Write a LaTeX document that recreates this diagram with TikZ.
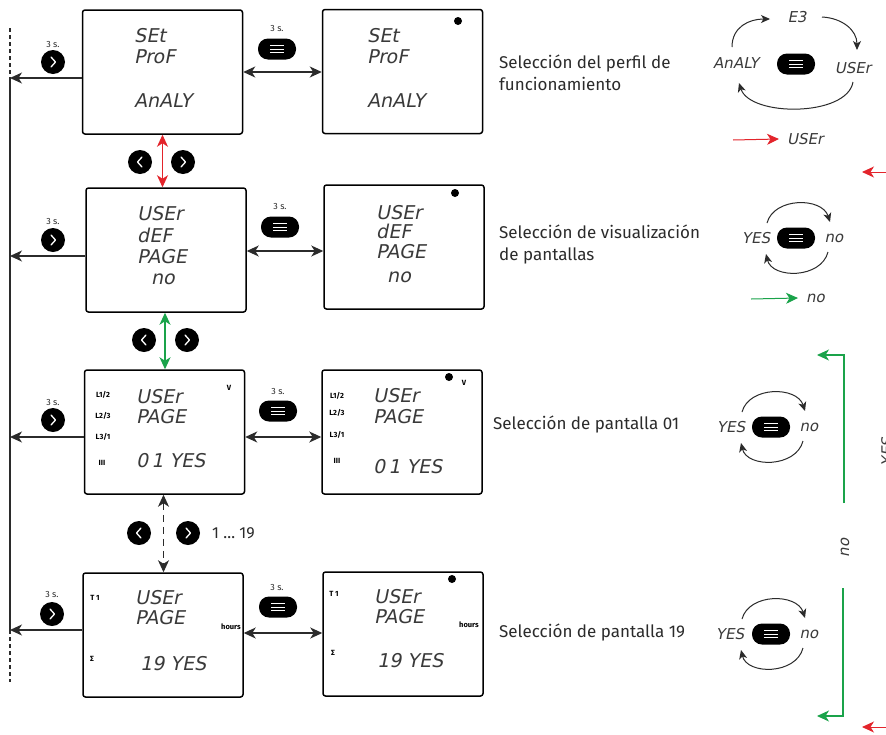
\documentclass[tikz,border=0pt]{standalone}
\usepackage{fontspec}
\setmainfont{Fira Sans}
\newfontfamily\lcdfont{DejaVu Sans}[FakeSlant=0.2]
\usetikzlibrary{arrows.meta}
\definecolor{myred}{HTML}{E3242B}
\definecolor{mygreen}{HTML}{1AA34A}
\definecolor{ink}{HTML}{2B2B2B}
\definecolor{lcdink}{HTML}{3A3A3A}
\tikzset{
 bx/.style={draw=black, line width=1.5pt, rounded corners=2.5pt, minimum width=160pt, minimum height=124pt, inner sep=0pt},
 lcd/.style={font=\lcdfont\fontsize{19}{19}\selectfont, anchor=base west, inner sep=0pt, text=lcdink},
 lcdc/.style={font=\lcdfont\fontsize{15}{15}\selectfont, inner sep=0pt, text=lcdink},
 lbl/.style={font=\fontsize{17}{22}\selectfont, anchor=west, align=left, inner sep=0pt, text=ink},
 ind/.style={font=\bfseries\fontsize{7.5}{7.5}\selectfont, inner sep=0pt},
 secs/.style={font=\fontsize{9}{9}\selectfont, inner sep=0pt, text=ink},
 >={Stealth[length=12pt,width=11pt,inset=3.5pt]},
 arr/.style={->, line width=1.1pt, draw=ink},
 darr/.style={<->, line width=1.1pt, draw=ink},
 cyc/.style={-{Stealth[length=9pt,width=8pt,inset=2.5pt]}, line width=1pt, draw=ink},
 rbtn/.style={circle, fill=black, minimum size=24pt, inner sep=0pt, path picture={\draw[white, line width=1.3pt, line cap=round, line join=round] ([shift={(-2pt,5pt)}]path picture bounding box.center) -- ++(4.5pt,-5pt) -- ++(-4.5pt,-5pt);}},
 lbtn/.style={circle, fill=black, minimum size=24pt, inner sep=0pt, path picture={\draw[white, line width=1.3pt, line cap=round, line join=round] ([shift={(2pt,5pt)}]path picture bounding box.center) -- ++(-4.5pt,-5pt) -- ++(4.5pt,-5pt);}},
 pill/.style={rectangle, rounded corners=10pt, fill=black, minimum width=38pt, minimum height=21pt, inner sep=0pt, path picture={\foreach \d in {-3.5,0,3.5}{\draw[white, line width=1pt] ([shift={(-7pt,\d pt)}]path picture bounding box.center) -- ++(14pt,0pt);}}},
 dotn/.style={circle, fill=black, minimum size=8pt, inner sep=0pt},
}
\begin{document}
\begin{tikzpicture}[x=1pt,y=-1pt]
\useasboundingbox (0,0) rectangle (886,734);
\fill[white] (0,0) rectangle (886,734);

% ---------- left bus ----------
\coordinate (vt) at (10,28);
\coordinate (va) at (10,78);
\coordinate (vb) at (10,630);
\coordinate (vd) at (10,682);
\draw[line width=1.1pt, ink] (va) -- (vb);
\draw[line width=1.1pt, ink, dash pattern=on 4pt off 3pt] (vt) -- (va);
\draw[line width=1.1pt, ink, dash pattern=on 4pt off 3pt] (vb) -- (vd);

% ---------- boxes ----------
\node[bx] (b1l) at (162.5,72) {};
\node[bx] (b1r) at (402.5,71.5) {};
\node[bx] (b2l) at (166,250) {};
\node[bx] (b2r) at (404,247) {};
\node[bx] (b3l) at (164.5,432) {};
\node[bx] (b3r) at (402,432) {};
\node[bx] (b4l) at (163,635) {};
\node[bx] (b4r) at (403,634) {};

% dots
\node[dotn] (d1) at (458,21) {};
\node[dotn] (d2) at (455,193) {};
\node[dotn] (d3) at (449,377) {};
\node[dotn] (d4) at (452,579) {};

% ---------- row 1 texts ----------
\node[lcd] (t11) at (134,42) {SEt};
\node[lcd] (t12) at (134,63) {ProF};
\node[lcd] (t13) at (134,107) {AnALY};
\node[lcd] (t14) at (367,42) {SEt};
\node[lcd] (t15) at (367,63) {ProF};
\node[lcd] (t16) at (367,107) {AnALY};

% ---------- row 2 texts ----------
\node[lcd] (t21) at (137,220) {USEr};
\node[lcd] (t22) at (137,242) {dEF};
\node[lcd] (t23) at (137,263) {PAGE};
\node[lcd] (t24) at (151,284) {no};
\node[lcd] (t25) at (376,219) {USEr};
\node[lcd] (t26) at (376,238) {dEF};
\node[lcd] (t27) at (376,258) {PAGE};
\node[lcd] (t28) at (387,282) {no};

% ---------- row 3 texts ----------
\node[lcd] (t31) at (136,403) {USEr};
\node[lcd] (t32) at (136,423) {PAGE};
\node[lcd] (t33) at (136,467) {0\,1 YES};
\node[ind] (i31) at (103,395) {L1/2};
\node[ind] (i32) at (103,416) {L2/3};
\node[ind] (i33) at (103,437) {L3/1};
\node[ind] (i34) at (102,463) {III};
\node[ind] (i35) at (229,388) {V};
\node[lcd] (t34) at (373,402) {USEr};
\node[lcd] (t35) at (373,423) {PAGE};
\node[lcd] (t36) at (373,473) {0\,1 YES};
\node[ind] (i36) at (337,396) {L1/2};
\node[ind] (i37) at (337,413) {L2/3};
\node[ind] (i38) at (337,435) {L3/1};
\node[ind] (i39) at (337,461) {III};
\node[ind] (i40) at (464,383) {V};

% ---------- row 4 texts ----------
\node[lcd] (t41) at (135,604) {USEr};
\node[lcd] (t42) at (135,624) {PAGE};
\node[lcd] (t43) at (140,670) {19 YES};
\node[ind] (i41) at (95,598) {T 1};
\node[ind] (i42) at (92,659) {Σ};
\node[ind] (i43) at (231,627) {hours};
\node[lcd] (t44) at (374,603) {USEr};
\node[lcd] (t45) at (374,623) {PAGE};
\node[lcd] (t46) at (377,667) {19 YES};
\node[ind] (i44) at (334,594) {T 1};
\node[ind] (i45) at (333,653) {Σ};
\node[ind] (i46) at (469,625) {hours};

% ---------- left arrows & buttons ----------
\draw[arr] ([yshift=-6pt]b1l.west) -- ([yshift=-6pt]b1l.west -| va);
\draw[arr] ([yshift=-6pt]b2l.west) -- ([yshift=-6pt]b2l.west -| va);
\draw[arr] ([yshift=-5pt]b3l.west) -- ([yshift=-5pt]b3l.west -| va);
\draw[arr] ([yshift=5pt]b4l.west) -- ([yshift=5pt]b4l.west -| va);
\node[rbtn] (k1) at (53,62) {};
\node[secs] (s1) at (53,44) {3 s.};
\node[rbtn] (k2) at (53,240) {};
\node[secs] (s2) at (53,221) {3 s.};
\node[rbtn] (k3) at (53,420) {};
\node[secs] (s3) at (53,402) {3 s.};
\node[rbtn] (k4) at (52,614) {};
\node[secs] (s4) at (52,594) {3 s.};

% ---------- horizontal double arrows & pills ----------
\draw[darr] (b1l.east) -- (b1l.east -| b1r.west);
\draw[darr] ([yshift=-1pt]b2l.east) -- ([yshift=-1pt]b2l.east -| b2r.west);
\draw[darr] ([yshift=-5pt]b3l.east) -- ([yshift=-5pt]b3l.east -| b3r.west);
\draw[darr] ([yshift=2pt]b4l.east) -- ([yshift=2pt]b4l.east -| b4r.west);
\node[pill] (p1) at (277,49) {};
\node[secs] (ps1) at (277,28) {3 s.};
\node[pill] (p2) at (280,227) {};
\node[secs] (ps2) at (280,206) {3 s.};
\node[pill] (p3) at (278,411) {};
\node[secs] (ps3) at (278,391) {3 s.};
\node[pill] (p4) at (278,607) {};
\node[secs] (ps4) at (277,587) {3 s.};

% ---------- vertical arrows ----------
\draw[<->, line width=1.2pt, myred] (b1l.south) -- (b1l.south |- b2l.north);
\node[lbtn] (v1a) at (140,162) {};
\node[rbtn] (v1b) at (183,162) {};
\draw[<->, line width=1.2pt, mygreen] ([xshift=-1pt]b2l.south) -- ([xshift=-1pt]b2l.south |- b3l.north);
\node[lbtn] (v2a) at (144,340) {};
\node[rbtn] (v2b) at (187,340) {};
\draw[<->, line width=1.1pt, ink, dash pattern=on 7pt off 5pt] ([xshift=-1pt]b3l.south) -- ([xshift=-1pt]b3l.south |- b4l.north);
\node[lbtn] (v3a) at (139,533) {};
\node[rbtn] (v3b) at (188,533) {};
\node[font=\fontsize{16}{16}\selectfont, anchor=west, inner sep=0pt, text=ink] (rng) at (212,533) {1 … 19};

% ---------- descriptions ----------
\node[lbl] (L1) at (499,73) {Selección del perfil de\\funcionamiento};
\node[lbl] (L2) at (499,244.5) {Selección de visualización\\de pantallas};
\node[lbl] (L3) at (493,424) {Selección de pantalla 01};
\node[lbl] (L4) at (499,632) {Selección de pantalla 19};

% ---------- cycle 1 ----------
\node[pill] (cp1) at (796,64) {};
\node[lcdc] (c1a) at (797,17) {E3};
\node[lcdc] (c1b) at (736,63) {AnALY};
\node[lcdc] (c1c) at (853,68) {USEr};
\draw[cyc] (732,47) .. controls (732,27) and (749,19) .. (770,19);
\draw[cyc] (822,17) .. controls (842,18) and (857,30) .. (857,50);
\draw[cyc] (853,82) .. controls (847,117) and (750,117) .. (739,83);
\coordinate (r1a) at (733,140);
\node[lcdc, anchor=west] (c1d) at (787,139) {USEr};
\draw[->, line width=1pt, myred] (r1a) -- ([xshift=-8pt]c1d.west);
\coordinate (r2a) at (892,172);
\coordinate (r2b) at (862,172);
\draw[->, line width=1pt, myred] (r2a) -- (r2b);

% ---------- cycle 2 ----------
\node[pill] (cp2) at (796,238) {};
\node[lcdc] (c2a) at (756,238) {YES};
\node[lcdc] (c2b) at (834,238) {no};
\draw[cyc] (767,223) .. controls (774,197) and (822,197) .. (830,222);
\draw[cyc] (828,252) .. controls (821,279) and (772,279) .. (766,254);
\coordinate (g0) at (751,299);
\node[lcdc, anchor=west] (c2c) at (806,298) {no};
\draw[->, line width=1pt, mygreen] (g0) -- ([xshift=-8pt]c2c.west);

% ---------- cycle 3 ----------
\node[pill] (cp3) at (771,427) {};
\node[lcdc] (c3a) at (731,427) {YES};
\node[lcdc] (c3b) at (809,427) {no};
\draw[cyc] (742,412) .. controls (749,386) and (797,386) .. (805,411);
\draw[cyc] (803,441) .. controls (796,468) and (747,468) .. (741,443);

% ---------- cycle 4 ----------
\node[pill] (cp4) at (771,634) {};
\node[lcdc] (c4a) at (730,634) {YES};
\node[lcdc] (c4b) at (809,634) {no};
\draw[cyc] (742,619) .. controls (749,593) and (797,593) .. (805,618);
\draw[cyc] (803,648) .. controls (796,675) and (747,675) .. (741,650);

% ---------- right green loop ----------
\coordinate (g1) at (844,503);
\coordinate (g2) at (844,355);
\coordinate (g3) at (817,355);
\draw[->, line width=1.1pt, mygreen] (g1) -- (g2) -- (g3);
\coordinate (g4) at (843,588);
\coordinate (g5) at (843,716);
\coordinate (g6) at (817,716);
\draw[->, line width=1.1pt, mygreen] (g4) -- (g5) -- (g6);
\node[lcdc, rotate=90] (nov) at (845,548) {no};
\node[lcdc, rotate=90] (yesv) at (887,452) {YES};
\coordinate (r3a) at (892,727);
\coordinate (r3b) at (862,727);
\draw[->, line width=1pt, myred] (r3a) -- (r3b);
\end{tikzpicture}
\end{document}
